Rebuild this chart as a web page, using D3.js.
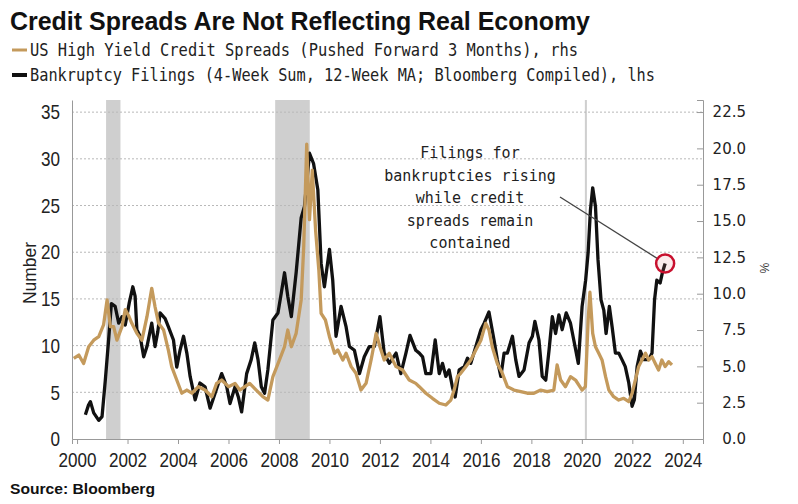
<!DOCTYPE html>
<html>
<head>
<meta charset="utf-8">
<script src="https://cdn.jsdelivr.net/npm/d3@7"></script>
<style>
  body { margin: 0; background: #fff; }
  svg { display: block; }
</style>
</head>
<body>
<div id="chart"></div>
<script>
// bankruptcy filings (lhs)
var filingYears = [2000.33,2000.45,2000.53,2000.66,2000.86,2000.99,2001.12,2001.25,2001.36,2001.51,2001.65,2001.78,2001.91,2002.07,2002.21,2002.30,2002.37,2002.50,2002.64,2002.77,2002.96,2003.09,2003.20,2003.29,2003.49,2003.62,2003.82,2003.95,2004.08,2004.22,2004.35,2004.48,2004.68,2004.87,2005.07,2005.27,2005.47,2005.73,2005.93,2006.06,2006.26,2006.39,2006.52,2006.72,2006.90,2007.04,2007.17,2007.30,2007.43,2007.56,2007.76,2007.96,2008.09,2008.22,2008.35,2008.49,2008.68,2008.88,2009.01,2009.21,2009.37,2009.54,2009.67,2009.80,2010.00,2010.13,2010.26,2010.46,2010.66,2010.79,2010.99,2011.19,2011.38,2011.58,2011.78,2012.00,2012.17,2012.37,2012.64,2012.83,2013.03,2013.19,2013.42,2013.56,2013.69,2013.82,2014.02,2014.19,2014.35,2014.48,2014.61,2014.74,2014.87,2014.98,2015.14,2015.34,2015.47,2015.60,2015.80,2016.00,2016.13,2016.32,2016.52,2016.65,2016.79,2016.92,2017.05,2017.25,2017.38,2017.51,2017.71,2017.91,2018.04,2018.14,2018.30,2018.43,2018.57,2018.70,2018.83,2018.96,2019.09,2019.22,2019.38,2019.55,2019.68,2019.86,2020.01,2020.15,2020.25,2020.34,2020.43,2020.54,2020.64,2020.76,2020.87,2020.96,2021.09,2021.20,2021.33,2021.46,2021.59,2021.72,2021.86,2021.99,2022.08,2022.19,2022.32,2022.45,2022.65,2022.78,2022.88,2022.97,2023.10,2023.19,2023.30];
var filingValues = [2.6,3.6,4.0,2.8,2.0,2.4,6.3,10.6,14.5,14.2,12.4,13.1,12.2,14.6,16.3,15.3,11.7,11.0,8.8,9.9,12.4,9.9,11.5,13.5,12.9,12.0,10.6,7.7,9.5,11.0,9.2,6.7,4.2,6.0,5.6,3.3,4.9,7.0,5.6,3.8,5.6,4.5,2.9,7.0,8.5,10.3,8.5,5.6,4.9,7.4,12.75,13.5,15.6,17.8,15.25,13.1,17.8,23.7,24.9,30.6,29.5,26.7,18.8,16.3,20.3,17.0,11.0,14.2,12.0,9.9,9.5,7.0,8.8,9.9,9.9,13.1,9.2,8.1,9.2,7.0,9.2,11.1,9.5,9.2,8.8,7.0,7.0,10.6,7.0,8.1,6.7,7.4,5.6,4.5,7.4,7.75,8.65,8.1,9.9,11.7,12.4,13.6,10.6,8.5,6.7,9.2,9.2,11.0,8.5,6.7,7.4,10.3,11.0,12.6,10.6,6.7,6.3,9.5,13.1,11.3,13.3,11.7,13.5,12.4,10.6,8.1,14.2,17.0,20.0,24.5,26.9,24.9,19.2,14.9,13.8,11.3,14.2,12.0,9.2,9.2,8.5,7.75,6.0,3.5,4.2,7.75,9.4,8.5,8.5,9.2,14.9,17.0,16.7,17.8,18.8];

// US high yield spreads pushed forward 3 months (rhs, %)
var spreadYears = [1999.87,2000.07,2000.26,2000.46,2000.66,2000.86,2001.05,2001.19,2001.32,2001.45,2001.58,2001.78,2001.91,2002.04,2002.17,2002.37,2002.57,2002.77,2002.96,2003.09,2003.23,2003.43,2003.62,2003.75,2003.95,2004.15,2004.35,2004.55,2004.81,2005.07,2005.34,2005.53,2005.73,2006.00,2006.26,2006.45,2006.65,2006.84,2007.10,2007.36,2007.56,2007.76,2008.02,2008.22,2008.35,2008.49,2008.68,2008.88,2008.98,2009.10,2009.21,2009.32,2009.45,2009.58,2009.67,2009.84,2010.00,2010.20,2010.33,2010.53,2010.66,2010.86,2011.05,2011.25,2011.45,2011.65,2011.85,2012.00,2012.17,2012.37,2012.64,2012.90,2013.16,2013.42,2013.56,2013.82,2014.08,2014.35,2014.61,2014.81,2014.94,2015.07,2015.20,2015.40,2015.60,2015.80,2016.00,2016.19,2016.32,2016.45,2016.65,2016.85,2017.05,2017.31,2017.58,2017.84,2018.10,2018.37,2018.63,2018.89,2019.02,2019.16,2019.35,2019.55,2019.75,2020.01,2020.14,2020.25,2020.32,2020.43,2020.54,2020.67,2020.80,2020.94,2021.07,2021.26,2021.46,2021.66,2021.86,2021.99,2022.12,2022.25,2022.38,2022.52,2022.65,2022.78,2022.91,2023.04,2023.17,2023.30,2023.44,2023.57];
var spreadValues = [5.55,5.78,5.2,6.35,6.8,7.04,7.85,9.57,7.73,7.73,6.8,7.73,8.9,8.5,7.96,7.27,6.8,8.42,10.37,9.1,7.96,7.5,6.1,4.98,4.06,3.15,3.37,3.15,3.6,3.37,2.91,3.83,4.06,3.6,3.83,3.37,3.6,3.83,3.37,2.91,2.68,4.29,5.44,6.35,7.5,6.35,7.27,9.57,13.2,20.3,15.1,18.5,14.4,11.6,8.65,8.19,7.04,5.9,6.13,5.44,5.9,4.98,4.52,3.37,3.83,5.44,7.27,6.35,5.44,5.9,4.98,4.75,4.06,3.83,3.6,3.15,2.8,2.46,2.34,2.68,3.37,4.29,4.52,4.98,5.44,6.13,6.8,7.96,7.5,6.35,5.2,4.52,3.6,3.37,3.26,3.15,3.15,3.37,3.26,3.37,5.1,4.06,3.6,4.29,4.06,3.37,3.6,8.19,10.1,7.27,6.35,5.9,5.44,4.29,3.37,2.91,2.68,2.8,2.57,3.15,4.06,4.98,5.44,5.9,5.44,5.67,5.2,4.75,5.44,4.98,5.32,5.1];

// recessions (start, end)
var recessionStart = [2001.15, 2007.85, 2020.12];
var recessionEnd = [2001.72, 2009.22, 2020.2];

var xTicks = [2000,2002,2004,2006,2008,2010,2012,2014,2016,2018,2020,2022,2024];
var leftTicks = [0,5,10,15,20,25,30,35];
var rightTicks = [0,2.5,5,7.5,10,12.5,15,17.5,20,22.5];

var titleText = "Credit Spreads Are Not Reflecting Real Economy";
var legendLabels = ["US High Yield Credit Spreads (Pushed Forward 3 Months), rhs",
                    "Bankruptcy Filings (4-Week Sum, 12-Week MA; Bloomberg Compiled), lhs"];
var noteLines = ["Filings for","bankruptcies rising","while credit","spreads remain","contained"];

var W = 798, H = 504;
var tan = "#c49a5c", ink = "#111";
var narrow = "'Liberation Sans', Arial, sans-serif";
var mono = "'DejaVu Sans Mono', 'Liberation Mono', monospace";

var svg = d3.select("#chart").append("svg").attr("width", W).attr("height", H);

var x = d3.scaleLinear().domain([1999.8, 2024.8]).range([72, 703]);
var yL = d3.scaleLinear().domain([0, 36.3]).range([439, 100]);
var yR = d3.scaleLinear().domain([0, 23.33]).range([439, 100]);

// title + legend
svg.append("text").attr("x", 10).attr("y", 30)
  .attr("font-family", narrow).attr("font-weight", "bold").attr("font-size", 25)
  .attr("fill", "#111").attr("textLength", 580).attr("lengthAdjust", "spacingAndGlyphs")
  .text(titleText);

var legendColors = [tan, ink], legendLen = [548, 625];
legendLabels.forEach(function(t, i){
  var ly = 50 + i * 25;
  svg.append("line").attr("x1", 12).attr("x2", 27).attr("y1", ly).attr("y2", ly)
    .attr("stroke", legendColors[i]).attr("stroke-width", i ? 4 : 3);
  svg.append("text").attr("x", 30).attr("y", ly + 6)
    .attr("font-family", mono).attr("font-size", 17).attr("fill", "#222")
    .attr("textLength", legendLen[i]).attr("lengthAdjust", "spacingAndGlyphs")
    .text(t);
});

// recession shading
svg.append("g").selectAll("rect").data(recessionStart).join("rect")
  .attr("x", function(d){ return x(d); })
  .attr("width", function(d, i){ return x(recessionEnd[i]) - x(d); })
  .attr("y", 100).attr("height", 339)
  .attr("fill", "#cfcfcf");

// grid
svg.append("g").selectAll("line").data(leftTicks.slice(1)).join("line")
  .attr("x1", 72).attr("x2", 703)
  .attr("y1", function(d){ return yL(d); }).attr("y2", function(d){ return yL(d); })
  .attr("stroke", "#b8b8b8").attr("stroke-dasharray", "2,2");

// axes
var gx = svg.append("g").attr("transform", "translate(0,439)")
  .call(d3.axisBottom(x).tickValues(xTicks).tickFormat(d3.format("d")).tickSize(5).tickPadding(9));
gx.selectAll("text").attr("font-family", narrow).attr("font-size", 20).attr("fill", "#222")
  .attr("textLength", 38).attr("lengthAdjust", "spacingAndGlyphs");

var gl = svg.append("g").attr("transform", "translate(72,0)")
  .call(d3.axisLeft(yL).tickValues(leftTicks).tickSize(0).tickPadding(12));
gl.selectAll("text").attr("font-family", narrow).attr("font-size", 21).attr("fill", "#222")
  .attr("textLength", function(d){ return String(d).length * 9.5; })
  .attr("lengthAdjust", "spacingAndGlyphs");

var gr = svg.append("g").attr("transform", "translate(703,0)")
  .call(d3.axisRight(yR).tickValues(rightTicks).tickFormat(d3.format(".1f")).tickSize(-6).tickPadding(9));
gr.selectAll("text").attr("font-family", "'DejaVu Sans', sans-serif").attr("font-size", 15)
  .attr("fill", "#222").attr("text-anchor", "end").attr("x", 43);

[gx, gl, gr].forEach(function(g){
  g.selectAll("path.domain, .tick line").attr("stroke", "#999");
});

svg.append("text").attr("transform", "translate(36,273) rotate(-90)")
  .attr("text-anchor", "middle").attr("font-family", narrow).attr("font-size", 19)
  .attr("fill", "#222").attr("textLength", 62).attr("lengthAdjust", "spacingAndGlyphs")
  .text("Number");
svg.append("text").attr("transform", "translate(760,268) rotate(90)")
  .attr("text-anchor", "middle").attr("font-family", narrow).attr("font-size", 12)
  .attr("fill", "#333").text("%");

// series
var filings = filingYears.map(function(d, i){ return [d, filingValues[i]]; });
var spreads = spreadYears.map(function(d, i){ return [d, spreadValues[i]]; });

svg.append("path").datum(filings)
  .attr("d", d3.line().x(function(d){ return x(d[0]); }).y(function(d){ return yL(d[1]); }))
  .attr("fill", "none").attr("stroke", ink).attr("stroke-width", 3.3).attr("stroke-linejoin", "round");

svg.append("path").datum(spreads)
  .attr("d", d3.line().x(function(d){ return x(d[0]); }).y(function(d){ return yR(d[1]); }))
  .attr("fill", "none").attr("stroke", tan).attr("stroke-width", 3.3).attr("stroke-linejoin", "round");

// annotation
noteLines.forEach(function(t, i){
  svg.append("text").attr("x", 470).attr("y", 158 + i * 22.5)
    .attr("text-anchor", "middle").attr("font-family", mono).attr("font-size", 15)
    .attr("fill", "#222").text(t);
});

var last = filings[filings.length - 1];
var cx = x(last[0]), cy = yL(last[1]), r = 9;
var sx = 560, sy = 197;
var dx = cx - sx, dy = cy - sy, dl = Math.sqrt(dx*dx + dy*dy);
svg.append("line").attr("x1", sx).attr("y1", sy)
  .attr("x2", cx - r * dx / dl).attr("y2", cy - r * dy / dl)
  .attr("stroke", "#444").attr("stroke-width", 1.3);
svg.append("circle").attr("cx", cx).attr("cy", cy).attr("r", r)
  .attr("fill", "rgba(230,120,130,0.15)").attr("stroke", "#c8102e").attr("stroke-width", 2.5);

// source
svg.append("text").attr("x", 10).attr("y", 494)
  .attr("font-family", narrow).attr("font-weight", "bold").attr("font-size", 14)
  .attr("fill", "#111").attr("textLength", 145).attr("lengthAdjust", "spacingAndGlyphs")
  .text("Source: Bloomberg");
</script>
</body>
</html>
